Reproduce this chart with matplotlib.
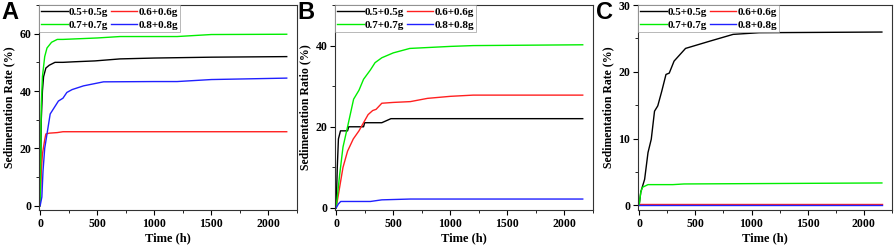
import numpy as np
import matplotlib
matplotlib.use('Agg')
import matplotlib.pyplot as plt
from matplotlib.ticker import MultipleLocator

plt.rcParams['font.family'] = ['Liberation Serif', 'DejaVu Serif']
plt.rcParams['font.weight'] = 'bold'

labels = ['0.5+0.5g', '0.6+0.6g', '0.7+0.7g', '0.8+0.8g']
colors = ['#000000', '#ff2020', '#00ee00', '#2020ff']

# Panel A: sedimentation rate (%) vs time (h)
a_black_t = [0, 10, 20, 30, 50, 80, 130, 200, 300, 480, 700, 1000, 1500, 2160]
a_black_v = [0, 30, 40, 45, 48, 49, 50, 50, 50.2, 50.5, 51.2, 51.5, 51.8, 52]
a_red_t = [0, 10, 20, 40, 50, 80, 150, 200, 2160]
a_red_v = [0, 12, 18, 23, 25, 25.3, 25.5, 25.8, 25.8]
a_green_t = [0, 10, 20, 40, 60, 100, 150, 200, 500, 700, 1000, 1200, 1500, 2160]
a_green_v = [0, 35, 45, 52, 55, 57, 58, 58, 58.5, 59, 59, 59, 59.7, 59.8]
a_blue_t = [0, 15, 25, 40, 60, 88, 120, 160, 200, 234, 280, 380, 555, 1000, 1200, 1500, 2160]
a_blue_v = [0, 3, 12, 20, 25, 32, 34, 36.5, 37.5, 39.5, 40.5, 41.8, 43.2, 43.3, 43.3, 44, 44.5]

# Panel B: sedimentation ratio (%)
b_black_t = [0, 10, 20, 38, 100, 110, 240, 250, 400, 480, 2160]
b_black_v = [0, 10, 17, 19, 19, 20, 20, 21, 21, 22, 22]
b_red_t = [0, 30, 60, 100, 150, 200, 240, 280, 320, 350, 400, 500, 650, 800, 1000, 1200, 2160]
b_red_v = [0, 5, 10, 14, 17, 19, 21, 23, 24, 24.3, 25.8, 26, 26.2, 27, 27.5, 27.8, 27.8]
b_green_t = [0, 30, 60, 100, 153, 200, 240, 300, 341, 400, 500, 645, 1000, 1200, 2160]
b_green_v = [0, 8, 15, 20, 26.8, 29, 31.7, 34, 35.8, 37, 38.2, 39.3, 39.8, 40, 40.2]
b_blue_t = [0, 20, 40, 300, 400, 650, 2160]
b_blue_v = [0, 1, 1.6, 1.6, 2, 2.2, 2.2]

# Panel C: sedimentation rate (%)
c_black_t = [0, 15, 49, 79, 108, 137, 166, 200, 239, 268, 311, 413, 632, 836, 1068, 2160]
c_black_v = [0, 2, 3.9, 7.9, 9.9, 14.1, 14.9, 17, 19.6, 19.8, 21.6, 23.5, 24.6, 25.6, 25.85, 25.95]
c_red_t = [0, 2160]
c_red_v = [0.15, 0.15]
c_green_t = [0, 15, 30, 79, 300, 400, 2160]
c_green_v = [0, 2, 2.7, 3.1, 3.1, 3.2, 3.35]
c_blue_t = [0, 2160]
c_blue_v = [0, 0]

panels = [
    ('A', 'Sedimentation Rate (%)',
     [(a_black_t, a_black_v), (a_red_t, a_red_v), (a_green_t, a_green_v), (a_blue_t, a_blue_v)],
     (-1.5, 70), 20, 10),
    ('B', 'Sedimentation Ratio (%)',
     [(b_black_t, b_black_v), (b_red_t, b_red_v), (b_green_t, b_green_v), (b_blue_t, b_blue_v)],
     (-0.5, 50), 20, 10),
    ('C', 'Sedimentation Rate (%)',
     [(c_black_t, c_black_v), (c_red_t, c_red_v), (c_green_t, c_green_v), (c_blue_t, c_blue_v)],
     (-0.7, 30), 10, 5),
]

W, H = 894, 246
fig = plt.figure(figsize=(W / 100, H / 100), dpi=100)

boxes = [(39, 297), (335, 593), (638, 892)]
top_px, bot_px = 5, 210
letter_x = [1, 297, 596]

for i, (letter, ylab, series, ylim, ymaj, ymin) in enumerate(panels):
    l, r = boxes[i]
    ax = fig.add_axes([l / W, 1 - bot_px / H, (r - l) / W, (bot_px - top_px) / H])
    lines = []
    for (t, v), c, lab in zip(series, colors, labels):
        ln, = ax.plot(t, v, color=c, lw=1.0, label=lab)
        lines.append(ln)
    ax.set_xlim(-10, 2250)
    ax.set_ylim(*ylim)
    ax.xaxis.set_major_locator(MultipleLocator(500))
    ax.xaxis.set_minor_locator(MultipleLocator(250))
    ax.yaxis.set_major_locator(MultipleLocator(ymaj))
    ax.yaxis.set_minor_locator(MultipleLocator(ymin))
    ax.tick_params(which='major', direction='out', length=3.5, width=0.8, labelsize=8.5, pad=2)
    ax.tick_params(which='minor', direction='out', length=2, width=0.6)
    for s in ax.spines.values():
        s.set_linewidth(0.8)
        s.set_color('#333333')
    ax.set_xlabel('Time (h)', fontsize=9, fontweight='bold', labelpad=2)
    ax.set_ylabel(ylab, fontsize=8.5, fontweight='bold', labelpad=3)
    # row-wise legend order: 0.5, 0.6 / 0.7, 0.8
    order = [0, 2, 1, 3]
    leg = ax.legend([lines[k] for k in order], [labels[k] for k in order],
                    loc='upper left', ncol=2, fontsize=8, frameon=True, fancybox=False,
                    borderaxespad=0, borderpad=0.2, handlelength=2.4, handletextpad=0.1,
                    columnspacing=0.2, labelspacing=0.25)
    leg.get_frame().set_edgecolor('#999999')
    leg.get_frame().set_linewidth(0.6)
    fig.text(letter_x[i] / W, 1 - 1 / H, letter, ha='left', va='top', fontsize=17,
             fontweight='bold', family='Liberation Sans')

fig.savefig('out.png', dpi=100)
